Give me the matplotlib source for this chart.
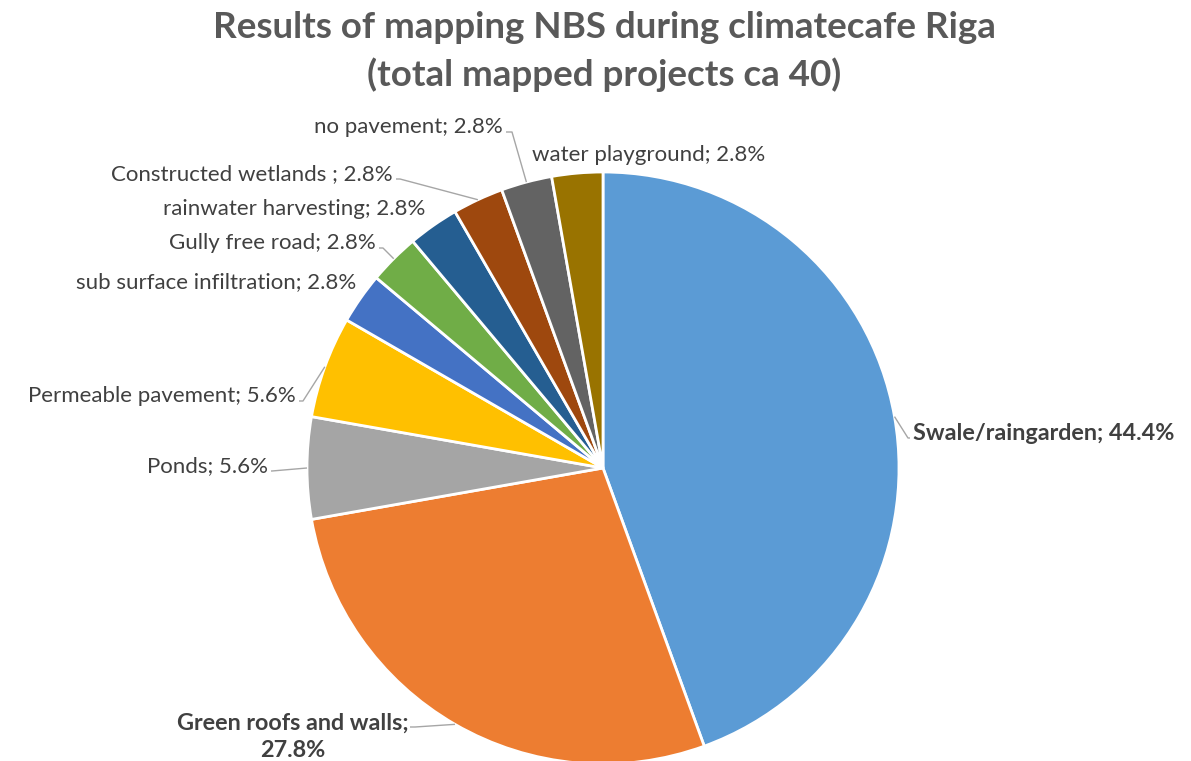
import matplotlib
matplotlib.use("Agg")
import matplotlib.pyplot as plt
import numpy as np

# Mapped nature-based solutions (project counts; shares shown as percentages)
categories = [
    "Swale/raingarden", "Green roofs and walls", "Ponds", "Permeable pavement",
    "sub surface infiltration", "Gully free road", "rainwater harvesting",
    "Constructed wetlands ", "no pavement", "water playground",
]
counts = [16, 10, 2, 2, 1, 1, 1, 1, 1, 1]
colors = ["#5B9BD5", "#ED7D31", "#A5A5A5", "#FFC000", "#4472C4",
          "#70AD47", "#255E91", "#9E480E", "#636363", "#997300"]

W, H = 1191, 761
DPI = 100
CX, CY, R = 603, 468, 296  # pie centre and radius in pixels

FONT = ["Lato", "DejaVu Sans"]
LABEL_COLOR = "#404040"
LEADER_COLOR = "#A6A6A6"

fig = plt.figure(figsize=(W / DPI, H / DPI), dpi=DPI)
fig.patch.set_facecolor("white")
ax = fig.add_axes([(CX - R) / W, (H - CY - R) / H, 2 * R / W, 2 * R / H])

ax.pie(counts, colors=colors, startangle=90, counterclock=False, radius=1.0,
       wedgeprops=dict(edgecolor="white", linewidth=2.0))
ax.set_xlim(-1, 1)
ax.set_ylim(-1, 1)
ax.set_aspect("equal")
ax.axis("off")


def px(x, y):
    """Pixel position -> pie data coordinates."""
    return (x - CX) / R, (CY - y) / R


total = sum(counts)
shares = [c / total * 100 for c in counts]
cum = np.cumsum([0] + counts)
mid_angles = [np.deg2rad(90 - 360 * (cum[i] + counts[i] / 2) / total)
              for i in range(len(counts))]

# label layout: (text x, text y, ha, bold, leader elbow x or None)
layout = [
    (913, 433, "left", True, 908),
    (293, 737, "center", True, 415),
    (268, 466, "right", False, 272),
    (296, 396, "right", False, 303),
    (356, 282, "right", False, None),
    (376, 243, "right", False, 383),
    (425, 209, "right", False, None),
    (393, 174, "right", False, 400),
    (503, 127, "right", False, 512),
    (532, 155, "left", False, None),
]

for i, (name, share) in enumerate(zip(categories, shares)):
    tx, ty, ha, bold, elbow = layout[i]
    txt = f"{name}; {share:.1f}%"
    if i == 1:
        txt = f"{name};\n{share:.1f}%"
    x, y = px(tx, ty)
    ax.text(x, y, txt, ha=ha, va="center", fontsize=16.8 if bold else 16,
            family=FONT, fontweight="bold" if bold else "normal",
            color=LABEL_COLOR, multialignment="center", linespacing=1.4,
            clip_on=False)
    if elbow is not None:
        wx, wy = np.cos(mid_angles[i]), np.sin(mid_angles[i])
        if i == 1:
            sx, sy = px(410, 727)
        elif ha == "right":
            sx, sy = px(tx + 3, ty + 5)
        else:
            sx, sy = px(tx - 3, ty + 5)
        ex, ey = px(elbow, ty + 5 if i != 1 else 727)
        ax.plot([sx, ex, wx], [sy, ey, wy], color=LEADER_COLOR, lw=1.0,
                clip_on=False, solid_capstyle="butt")

fig.text(604 / W, 1 - 27 / H, "Results of mapping NBS during climatecafe Riga",
         ha="center", va="center", fontsize=26.5, fontweight="bold",
         family=FONT, color="#595959")
fig.text(604 / W, 1 - 75 / H, "(total mapped projects ca 40)",
         ha="center", va="center", fontsize=26.5, fontweight="bold",
         family=FONT, color="#595959")

fig.savefig("out.png", dpi=DPI, facecolor="white")
